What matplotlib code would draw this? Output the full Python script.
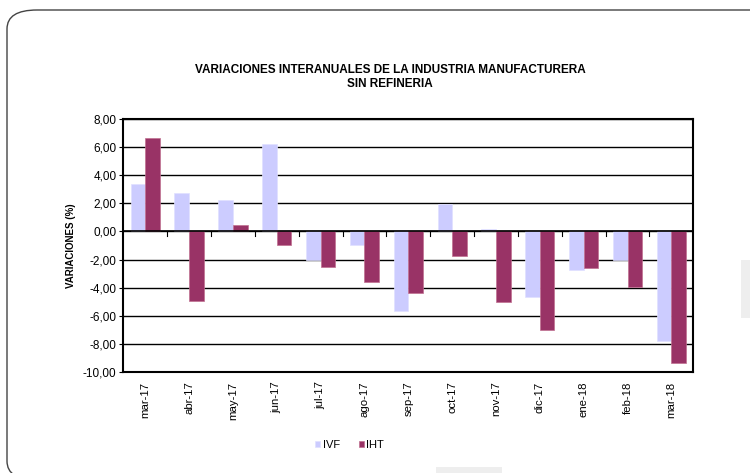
import numpy as np
from matplotlib import pyplot as plt
from matplotlib.patches import FancyBboxPatch, Rectangle

plt.rcParams['font.family'] = ['Liberation Sans', 'DejaVu Sans']

#------------------------------------------------------------
# data
months = ['mar-17', 'abr-17', 'may-17', 'jun-17', 'jul-17', 'ago-17', 'sep-17',
          'oct-17', 'nov-17', 'dic-17', 'ene-18', 'feb-18', 'mar-18']
ivf = [3.40, 2.76, 2.21, 6.25, -2.02, -0.95, -5.70,
       1.97, 0.21, -4.66, -2.73, -2.07, -7.84]
iht = [6.70, -4.94, 0.45, -1.00, -2.52, -3.61, -4.39,
       -1.78, -5.04, -7.03, -2.61, -3.97, -9.38]
yticks = np.arange(-10, 10, 2)

#------------------------------------------------------------
fig = plt.figure(figsize=(7.5, 4.73), dpi=100)

# rounded outer frame (runs off the right and bottom edges)
frame = FancyBboxPatch((7 / 750, 1 - 480 / 473), 800 / 750, 470 / 473,
                       boxstyle='round,pad=0,rounding_size=0.04',
                       transform=fig.transFigure, fc='none', ec='#444444',
                       lw=1.0, clip_on=False)
fig.patches.append(frame)
fig.patches.append(Rectangle((741 / 750, 1 - 318 / 473), 9 / 750, 58 / 473,
                             transform=fig.transFigure, fc='#eeeeee', ec='none'))
fig.patches.append(Rectangle((436 / 750, 0), 66 / 750, 6 / 473,
                             transform=fig.transFigure, fc='#eeeeee', ec='none'))

ax = fig.add_axes([0.1644, 0.2142, 0.76, 0.5336])

x = np.arange(len(months))
w = 1 / 3
ax.bar(x - w / 2, ivf, w, color='#ccccff', edgecolor='#e0e0ff', lw=0.5,
       label='IVF', zorder=3)
ax.bar(x + w / 2, iht, w, color='#993366', edgecolor='#c07090', lw=0.5,
       label='IHT', zorder=3)

ax.set_xlim(-0.5, len(months) - 0.5)
ax.set_ylim(-10, 8)
ax.set_yticks(yticks)
ax.set_yticklabels([('%.2f' % v).replace('.', ',') for v in yticks],
                   fontsize=8.5)
ax.yaxis.grid(True, color='black', lw=1.0, zorder=0)
ax.tick_params(axis='y', length=3, width=0.8, pad=2)

# category labels at the bottom, tick marks on the zero line
ax.set_xticks(x)
ax.set_xticklabels(months, rotation=90, fontsize=8.2)
ax.tick_params(axis='x', length=0, pad=7)
ax.axhline(0, color='black', lw=1.2, zorder=4)
for b in np.arange(0.5, len(months) - 1, 1):
    ax.plot([b, b], [0, -0.3], color='black', lw=0.8, zorder=4)

for s in ax.spines.values():
    s.set_linewidth(1.5)
    s.set_color('black')

ax.set_ylabel('VARIACIONES (%)', fontsize=7, fontweight='bold', labelpad=5)
fig.text(0.52, 1 - 70 / 473, 'VARIACIONES INTERANUALES DE LA INDUSTRIA MANUFACTURERA',
         ha='center', va='center', fontsize=8.5, fontweight='bold')
fig.text(0.52, 1 - 84 / 473, 'SIN REFINERIA',
         ha='center', va='center', fontsize=8.5, fontweight='bold')

fig.legend(loc='center', bbox_to_anchor=(0.466, 1 - 445 / 473), ncol=2,
           frameon=False, fontsize=8, handlelength=0.5, handleheight=0.5,
           handletextpad=0.2, columnspacing=1.7)

plt.savefig('out.png', dpi=100)
